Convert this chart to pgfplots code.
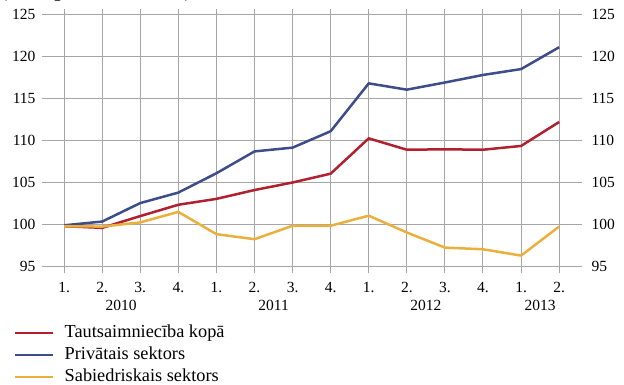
\documentclass[border=0pt]{standalone}
\usepackage{fontspec}
\setmainfont{Liberation Serif}
\usepackage{pgfplots}
\pgfplotsset{compat=1.18}
\definecolor{cred}{HTML}{B0202F}
\definecolor{cblue}{HTML}{3D4C8A}
\definecolor{cyel}{HTML}{EBB03C}
\definecolor{cgrid}{HTML}{A6A6A6}
\begin{document}
\begin{tikzpicture}[x=1pt,y=1pt]
\useasboundingbox (0,0) rectangle (624,385);
\node[anchor=base west, inner sep=0, font=\fontsize{18.3}{22}\selectfont] at (1,387) {(2010.~gada 1.~cet. = 100)};
\begin{axis}[
  at={(42pt,118.5pt)}, anchor=south west, scale only axis,
  width=540pt, height=257.9pt,
  xmin=-0.58, xmax=13.6, ymin=95, ymax=125.7,
  xtick={0,...,13},
  xticklabels={1.,2.,3.,4.,1.,2.,3.,4.,1.,2.,3.,4.,1.,2.},
  ytick={95,100,...,125},
  axis line style={draw=none},
  xmajorgrids, ymajorgrids,
  grid style={cgrid, line width=1pt},
  xtick pos=lower, tick align=outside, major tick length=7pt,
  xtick style={cgrid, line width=1pt},
  ytick style={draw=none},
  ytick pos=left,
  tick label style={font=\fontsize{15.5}{18}\selectfont},
  /pgf/number format/assume math mode=true,
  xticklabel style={yshift=-5.5pt},
  yticklabel style={anchor=east, xshift=4pt},
  clip=false,
  legend style={at={(-0.05185,-0.2249)}, anchor=north west, draw=none, fill=none,
    inner sep=0pt, font=\fontsize{18.3}{22}\selectfont,
    nodes={inner sep=0pt, text height=13pt, text depth=4pt},
    row sep=5pt, column sep=10pt},
  legend cell align=left,
  legend image code/.code={\draw[#1] (0pt,0pt) -- (38pt,0pt);},
]
\addplot[cred, line width=2.5pt] coordinates {(0,99.8) (1,99.6) (2,101.0) (3,102.35) (4,103.05) (5,104.1) (6,105.0) (7,106.05) (8,110.25) (9,108.9) (10,108.95) (11,108.9) (12,109.35) (13,112.2)};
\addlegendentry{Tautsaimniecība kopā}
\addplot[cblue, line width=2.5pt] coordinates {(0,99.9) (1,100.35) (2,102.55) (3,103.8) (4,106.1) (5,108.7) (6,109.15) (7,111.1) (8,116.8) (9,116.05) (10,116.9) (11,117.8) (12,118.5) (13,121.1)};
\addlegendentry{Privātais sektors}
\addplot[cyel, line width=2.5pt] coordinates {(0,99.8) (1,99.75) (2,100.25) (3,101.5) (4,98.85) (5,98.25) (6,99.85) (7,99.85) (8,101.05) (9,99.05) (10,97.25) (11,97.05) (12,96.3) (13,99.75)};
\addlegendentry{Sabiedriskais sektors}
\node[font=\fontsize{15.5}{18}\selectfont] at (axis cs:1.5,95) [yshift=-39pt] {2010};
\node[font=\fontsize{15.5}{18}\selectfont] at (axis cs:5.5,95) [yshift=-39pt] {2011};
\node[font=\fontsize{15.5}{18}\selectfont] at (axis cs:9.5,95) [yshift=-39pt] {2012};
\node[font=\fontsize{15.5}{18}\selectfont] at (axis cs:12.5,95) [yshift=-39pt] {2013};
\end{axis}
\begin{axis}[
  at={(42pt,118.5pt)}, anchor=south west, scale only axis,
  width=540pt, height=257.9pt,
  xmin=-0.58, xmax=13.6, ymin=95, ymax=125.7,
  ytick={95,100,...,125},
  axis x line=none, axis y line*=right,
  axis line style={draw=none},
  ytick style={draw=none},
  tick label style={font=\fontsize{15.5}{18}\selectfont},
  /pgf/number format/assume math mode=true,
  yticklabel style={anchor=west, xshift=6pt},
]
\end{axis}
\end{tikzpicture}
\end{document}
